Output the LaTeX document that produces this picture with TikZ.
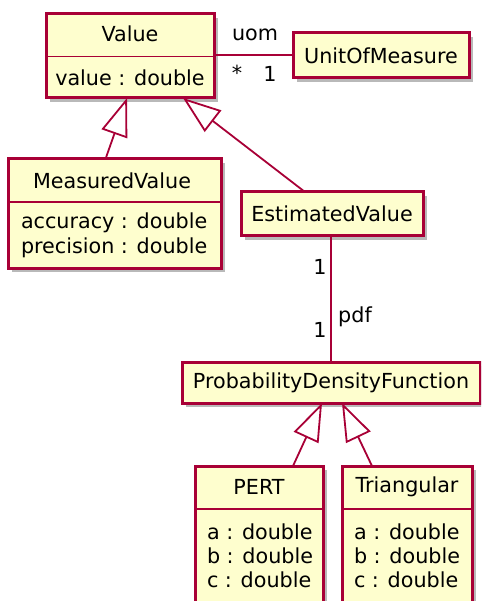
\documentclass[tikz,border=0pt]{standalone}
\usepackage{fontspec}
\setmainfont{DejaVu Sans}
\usetikzlibrary{arrows.meta,shadows}
\definecolor{umlborder}{HTML}{A80036}
\definecolor{umlfill}{HTML}{FEFECE}
\begin{document}
\begin{tikzpicture}[x=1pt,y=-1pt,
  every node/.style={inner sep=0pt,outer sep=0pt},
  classbox/.style={draw=umlborder,fill=umlfill,line width=3pt,rectangle,
    drop shadow={shadow xshift=4pt,shadow yshift=-4pt,fill=black!50,opacity=0.55}},
  divider/.style={draw=umlborder,line width=1.8pt},
  conn/.style={draw=umlborder,line width=1.8pt},
  gen/.style={conn,-{Triangle[open,length=38pt,width=27pt,fill=white]}},
  txt/.style={font=\fontsize{20.7}{24}\selectfont,text=black},
  lbl/.style={font=\fontsize{20.7}{24}\selectfont,text=black}
]
\useasboundingbox (0,0) rectangle (481,601);
\begin{scope}
\clip (0,0) rectangle (481,601);
% boxes
\node[classbox,minimum width=168pt,minimum height=84pt] (Value) at (130,56) {};
\node[classbox,minimum width=176pt,minimum height=45pt] (UoM) at (381,55.5) {};
\node[classbox,minimum width=213pt,minimum height=109pt] (MV) at (114.5,213.5) {};
\node[classbox,minimum width=182pt,minimum height=44pt] (EV) at (332,214) {};
\node[classbox,minimum width=298pt,minimum height=41pt] (PDF) at (331,382.5) {};
\node[classbox,minimum width=128pt,minimum height=136pt] (PERT) at (259,534) {};
\node[classbox,minimum width=130pt,minimum height=136pt] (Tri) at (407,534) {};
% dividers
\draw[divider] (Value.west |- 0,56.5) -- (Value.east |- 0,56.5);
\draw[divider] (MV.west |- 0,202) -- (MV.east |- 0,202);
\draw[divider] (PERT.west |- 0,509) -- (PERT.east |- 0,509);
\draw[divider] (Tri.west |- 0,509) -- (Tri.east |- 0,509);
% texts
\node[txt] (ValueT) at (130,34) {Value};
\node[txt] (ValueA) at (130,78) {value : double};
\node[txt] (UoMT) at (381,55.5) {UnitOfMeasure};
\node[txt] (MVT) at (112,181) {MeasuredValue};
\node[txt,anchor=west] (MVA1) at (21,223) {accuracy : double};
\node[txt,anchor=west] (MVA2) at (21,248) {precision : double};
\node[txt] (EVT) at (332,214) {EstimatedValue};
\node[txt] (PDFT) at (331,382.5) {ProbabilityDensityFunction};
\node[txt] (PERTT) at (259,487) {PERT};
\node[txt,anchor=west] (PA1) at (207,532) {a : double};
\node[txt,anchor=west] (PA2) at (207,556) {b : double};
\node[txt,anchor=west] (PA3) at (207,580) {c : double};
\node[txt] (TriT) at (407,487) {Triangular};
\node[txt,anchor=west] (TA1) at (354,532) {a : double};
\node[txt,anchor=west] (TA2) at (354,556) {b : double};
\node[txt,anchor=west] (TA3) at (354,580) {c : double};
\end{scope}
% connectors
\draw[conn] (Value.east |- 0,55) -- (UoM.west |- 0,55);
\node[lbl] (uom) at (255,35) {uom};
\node[lbl] (star) at (237,73) {*};
\node[lbl] (one1) at (270,74) {1};
\draw[gen] ([xshift=-9pt]MV.north) -- ([xshift=-3pt]Value.south);
\draw[gen] ([xshift=-27pt]EV.north) -- ([xshift=53pt]Value.south);
\draw[conn] (EV.south -| PDF.north) -- (PDF.north);
\node[lbl] (m1) at (320,267) {1};
\node[lbl] (m2) at (320,330) {1};
\node[lbl] (pdf) at (355,317) {pdf};
\draw[gen] ([xshift=34pt]PERT.north) -- ([xshift=-9pt]PDF.south);
\draw[gen] ([xshift=-35pt]Tri.north) -- ([xshift=11pt]PDF.south);
\end{tikzpicture}
\end{document}
